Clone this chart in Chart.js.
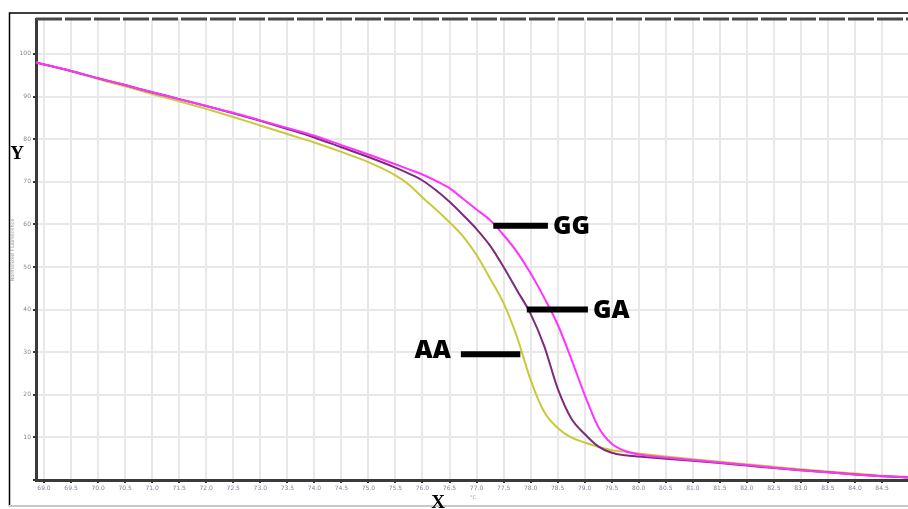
<!DOCTYPE html>
<html>
<head>
<meta charset="utf-8">
<script src="https://cdn.jsdelivr.net/npm/chart.js@4"></script>
<style>
  html, body { margin: 0; padding: 0; background: #fff; }
  #wrap { position: relative; width: 908px; height: 509px; }
</style>
</head>
<body>
<div id="wrap"><canvas id="meltChart" width="908" height="509"></canvas></div>
<script>
// temperature (°C) and normalized fluorescence
const temps = [68.85, 69.5, 70, 70.5, 71, 71.5, 72, 72.5, 73, 73.5, 74, 74.5, 75, 75.5, 75.75, 76, 76.25, 76.5, 76.75, 77, 77.25, 77.5, 77.75, 78, 78.25, 78.5, 78.75, 79, 79.25, 79.5, 79.75, 80, 80.5, 81, 81.5, 82, 82.5, 83, 83.5, 84, 84.5, 85];
const gg = [98.0, 96.0, 94.3, 92.7, 91.0, 89.4, 87.8, 86.2, 84.4, 82.6, 80.8, 78.6, 76.4, 74.1, 72.9, 71.7, 70.2, 68.5, 66.0, 63.5, 61.0, 57.5, 53.5, 48.5, 42.8, 36.5, 28.5, 20.0, 12.5, 8.5, 6.8, 6.0, 5.3, 4.7, 4.1, 3.5, 2.9, 2.3, 1.8, 1.3, 0.9, 0.6];
const ga = [98.0, 96.0, 94.3, 92.7, 91.0, 89.4, 87.8, 86.1, 84.3, 82.4, 80.4, 78.1, 75.8, 73.3, 71.9, 70.3, 68.0, 65.3, 62.2, 58.9, 55.0, 50.0, 44.5, 39.0, 31.5, 21.5, 14.5, 10.8, 7.9, 6.4, 5.8, 5.5, 5.0, 4.5, 4.0, 3.4, 2.8, 2.3, 1.8, 1.3, 0.9, 0.6];
const aa = [98.0, 95.9, 94.1, 92.4, 90.6, 88.9, 87.1, 85.2, 83.2, 81.2, 79.2, 77.0, 74.6, 71.5, 69.3, 66.3, 63.5, 60.5, 57.2, 52.8, 47.3, 41.5, 33.5, 23.5, 16.0, 12.2, 10.0, 8.8, 7.8, 7.0, 6.6, 6.2, 5.5, 4.9, 4.3, 3.7, 3.1, 2.5, 2.0, 1.5, 1.0, 0.7];

// genotype callouts: label, bar start / end temp, fluorescence level
const calloutNames = ["GG", "GA", "AA"];
const calloutFrom = [77.31, 77.93, 76.71];
const calloutTo = [78.32, 79.06, 77.81];
const calloutLevel = [59.7, 40.0, 29.5];

function toPoints(vals) {
    return temps.map((t, i) => ({ x: t, y: vals[i] }));
}

const extras = {
    id: "extras",
    afterDraw(chart) {
        const c = chart.ctx;
        const area = chart.chartArea;
        const xs = chart.scales.x;
        const ys = chart.scales.y;
        c.save();

        // dashed top border of the plot
        c.strokeStyle = "#4a4a4a";
        c.lineWidth = 3;
        c.setLineDash([26, 3]);
        c.beginPath();
        c.moveTo(area.left, area.top);
        c.lineTo(area.right, area.top);
        c.stroke();
        c.setLineDash([]);

        // outer frame
        c.strokeStyle = "#000";
        c.lineWidth = 1.5;
        c.beginPath();
        c.moveTo(908, 13);
        c.lineTo(9.5, 13);
        c.lineTo(9.5, 506);
        c.stroke();
        c.strokeStyle = "#c8c8c8";
        c.lineWidth = 2;
        c.beginPath();
        c.moveTo(9, 506);
        c.lineTo(908, 506);
        c.stroke();

        // tiny axis titles
        c.fillStyle = "#9a9a9a";
        c.font = "5px 'DejaVu Sans'";
        c.textAlign = "center";
        c.textBaseline = "middle";
        c.fillText("°C", 473, 498);
        c.save();
        c.translate(13, 250);
        c.rotate(-Math.PI / 2);
        c.fillText("Normalized Fluorescence", 0, 0);
        c.restore();

        // big X / Y letters
        c.fillStyle = "#000";
        c.font = "bold 19px 'Liberation Serif'";
        c.fillText("Y", 17, 154);
        c.fillText("X", 438, 503);

        // callouts
        c.font = "800 25px 'Open Sans'";
        c.lineCap = "butt";
        calloutNames.forEach((name, i) => {
            const x1 = xs.getPixelForValue(calloutFrom[i]);
            const x2 = xs.getPixelForValue(calloutTo[i]);
            const y = ys.getPixelForValue(calloutLevel[i]);
            c.strokeStyle = "#000";
            c.lineWidth = 6;
            c.beginPath();
            c.moveTo(x1, y);
            c.lineTo(x2, y);
            c.stroke();
            if (name === "AA") {
                c.textAlign = "right";
                c.fillText(name, x1 - 10, y - 3);
            } else {
                c.textAlign = "left";
                c.fillText(name, x2 + 5, y + 1);
            }
        });
        c.restore();
    }
};

const ctx = document.getElementById("meltChart").getContext("2d");
new Chart(ctx, {
    type: "line",
    data: {
        datasets: [
            { label: "GG", data: toPoints(gg), borderColor: "#ff33ff", borderWidth: 2 },
            { label: "GA", data: toPoints(ga), borderColor: "#7e2a7c", borderWidth: 2 },
            { label: "AA", data: toPoints(aa), borderColor: "#c9c93a", borderWidth: 2 }
        ]
    },
    options: {
        responsive: false,
        animation: false,
        events: [],
        elements: {
            point: { radius: 0 },
            line: { cubicInterpolationMode: "monotone" }
        },
        layout: { padding: { left: 0, top: 19, right: 0, bottom: 0 } },
        plugins: { legend: { display: false }, tooltip: { enabled: false } },
        scales: {
            x: {
                type: "linear",
                min: 68.852,
                max: 84.98,
                afterFit: s => { s.height = 29; },
                border: { color: "#3a3a3a", width: 3 },
                grid: { color: "#e8e8e8", lineWidth: 2, tickColor: "#333", tickLength: 3 },
                ticks: {
                    stepSize: 0.5,
                    includeBounds: false,
                    autoSkip: false,
                    maxRotation: 0,
                    padding: 2,
                    color: "#8a7f98",
                    font: { size: 6, family: "'DejaVu Sans'" },
                    callback: v => v.toFixed(1)
                }
            },
            y: {
                min: 0,
                max: 108.2,
                afterFit: s => { s.width = 36; },
                border: { color: "#3a3a3a", width: 3 },
                grid: { color: "#e8e8e8", lineWidth: 2, tickColor: "#333", tickLength: 3 },
                ticks: {
                    stepSize: 10,
                    includeBounds: false,
                    padding: 2,
                    color: "#8a7f98",
                    font: { size: 6, family: "'DejaVu Sans'" },
                    callback: v => (v === 0 ? "" : v)
                }
            }
        }
    },
    plugins: [extras]
});
</script>
</body>
</html>
